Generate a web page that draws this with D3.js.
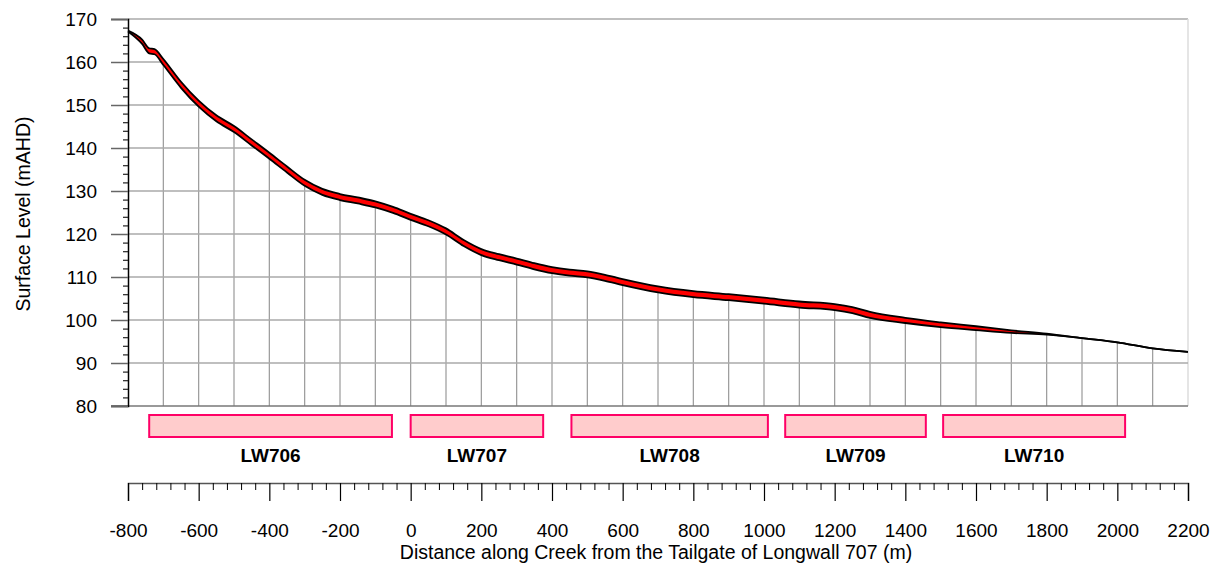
<!DOCTYPE html>
<html>
<head>
<meta charset="utf-8">
<script src="https://cdn.jsdelivr.net/npm/d3@7"></script>
<style>
  body { margin: 0; background: #fff; }
  svg { font-family: "Liberation Sans", Arial, sans-serif; }
</style>
</head>
<body>
<div id="chart"></div>
<script>
// Chart data
const distance = [-800, -760, -740, -725, -700, -650, -600, -550, -500, -450, -400, -350, -300, -250, -200, -150, -100, -50,
  0, 50, 100, 150, 200, 250, 300, 350, 400, 450, 500, 550, 600, 700, 800, 900, 1000, 1100, 1200, 1250, 1300, 1400,
  1500, 1600, 1700, 1800, 1900, 2000, 2100, 2200];
// pre-mining surface (upper edge of the band)
const upperLevel = [167.3, 165.2, 163.2, 163.0, 160.7, 155.4, 151.0, 147.6, 145.1, 142.0, 138.9, 135.7, 132.6, 130.5, 129.3, 128.5, 127.6, 126.3,
  124.7, 123.2, 121.3, 118.6, 116.5, 115.3, 114.3, 113.2, 112.3, 111.7, 111.3, 110.5, 109.5, 107.8, 106.7, 106.0, 105.2, 104.3, 103.7, 103.0, 101.9, 100.5,
  99.45, 98.55, 97.6, 96.8, 95.8, 94.8, 93.4, 92.6];
// post-mining surface (lower edge of the band)
const lowerLevel = [167.1, 164.2, 162.0, 161.8, 159.3, 154.0, 149.6, 146.2, 143.7, 140.6, 137.5, 134.3, 131.2, 129.1, 127.9, 127.1, 126.2, 124.9,
  123.3, 121.8, 119.9, 117.2, 115.1, 113.9, 112.9, 111.8, 110.9, 110.3, 109.9, 109.1, 108.1, 106.4, 105.3, 104.6, 103.8, 102.9, 102.3, 101.6, 100.5, 99.3,
  98.35, 97.65, 97.0, 96.6, 95.8, 94.8, 93.4, 92.6];

const panelNames = ["LW706", "LW707", "LW708", "LW709", "LW710"];
const panelStart = [-740, 0, 455, 1060, 1507];
const panelEnd = [-53, 375, 1011, 1458, 2022];

const yTicks = [80, 90, 100, 110, 120, 130, 140, 150, 160, 170];
const xTicks = [-800, -600, -400, -200, 0, 200, 400, 600, 800, 1000, 1200, 1400, 1600, 1800, 2000, 2200];

// Dimensions
const width = 1210;
const height = 564;
const plotLeft = 128, plotRight = 1188, plotTop = 19, plotBottom = 406;

const svg = d3.select("#chart").append("svg")
    .attr("width", width)
    .attr("height", height);

const x = d3.scaleLinear().domain([-800, 2200]).range([plotLeft, plotRight]);
const y = d3.scaleLinear().domain([80, 170]).range([plotBottom, plotTop]);

const rows = distance.map((d, i) => ({ d: d, up: upperLevel[i], lo: lowerLevel[i] }));

// Clip for grid: area below the surface profile
const underArea = d3.area()
    .x(r => x(r.d))
    .y0(plotBottom)
    .y1(r => y(r.up))
    .curve(d3.curveMonotoneX);

svg.append("clipPath").attr("id", "under")
  .append("path").attr("d", underArea(rows));

// Frame (top and right)
svg.append("line").attr("x1", plotLeft).attr("x2", plotRight).attr("y1", plotTop).attr("y2", plotTop)
    .attr("stroke", "#aaa").attr("stroke-width", 1.5);
svg.append("line").attr("x1", plotRight).attr("x2", plotRight).attr("y1", plotTop).attr("y2", plotBottom)
    .attr("stroke", "#ddd").attr("stroke-width", 1.5);

// Grid lines clipped to under the curve
const grid = svg.append("g").attr("clip-path", "url(#under)");
grid.selectAll(".vg")
    .data(d3.range(-700, 2200, 100))
    .enter().append("line")
    .attr("x1", d => x(d)).attr("x2", d => x(d))
    .attr("y1", plotTop).attr("y2", plotBottom)
    .attr("stroke", "#999").attr("stroke-width", 1.2);
grid.selectAll(".hg")
    .data(yTicks.slice(1))
    .enter().append("line")
    .attr("x1", plotLeft).attr("x2", plotRight)
    .attr("y1", d => y(d)).attr("y2", d => y(d))
    .attr("stroke", "#aaa").attr("stroke-width", 1.5);

// Bottom line of plot at 80
svg.append("line").attr("x1", plotLeft - 17).attr("x2", plotRight).attr("y1", plotBottom).attr("y2", plotBottom)
    .attr("stroke", "#777").attr("stroke-width", 1.5);

// Band between the two profiles
const band = d3.area()
    .x(r => x(r.d))
    .y0(r => y(r.lo))
    .y1(r => y(r.up))
    .curve(d3.curveMonotoneX);
svg.append("path").attr("d", band(rows)).attr("fill", "#ff0000");

const lineUp = d3.line().x(r => x(r.d)).y(r => y(r.up)).curve(d3.curveMonotoneX);
const lineLo = d3.line().x(r => x(r.d)).y(r => y(r.lo)).curve(d3.curveMonotoneX);
[lineUp, lineLo].forEach(fn => {
  svg.append("path").attr("d", fn(rows))
      .attr("fill", "none").attr("stroke", "#000").attr("stroke-width", 1.8)
      .attr("stroke-linejoin", "round");
});

// Left axis
const yAxis = d3.axisLeft(y).tickValues(yTicks).tickSize(17).tickPadding(14).tickFormat(d => d);
const gy = svg.append("g").attr("transform", `translate(${plotLeft},0)`).call(yAxis);
gy.select(".domain").attr("stroke", "#000").attr("stroke-width", 1.5);
gy.selectAll(".tick line").attr("stroke", "#666").attr("stroke-width", 1.5);
gy.selectAll("text").attr("font-size", 19).attr("fill", "#000");
svg.append("g").attr("transform", `translate(${plotLeft},0)`)
  .call(d3.axisLeft(y).tickValues(d3.range(80, 171, 2).filter(v => v % 10 !== 0)).tickSize(5).tickFormat(""))
  .call(g => g.select(".domain").remove())
  .selectAll(".tick line").attr("stroke", "#222").attr("stroke-width", 1.2);

svg.append("text")
    .attr("transform", `translate(30,214) rotate(-90)`)
    .attr("text-anchor", "middle")
    .attr("font-size", 19.5)
    .text("Surface Level (mAHD)");

// Longwall panels
svg.selectAll(".panel")
    .data(panelNames)
    .enter().append("rect")
    .attr("x", (d, i) => x(panelStart[i]))
    .attr("y", 415)
    .attr("width", (d, i) => x(panelEnd[i]) - x(panelStart[i]))
    .attr("height", 22)
    .attr("fill", "#ffcccc")
    .attr("stroke", "#ff0066")
    .attr("stroke-width", 2);
svg.selectAll(".plabel")
    .data(panelNames)
    .enter().append("text")
    .attr("x", (d, i) => (x(panelStart[i]) + x(panelEnd[i])) / 2)
    .attr("y", 462)
    .attr("text-anchor", "middle")
    .attr("font-size", 19)
    .attr("font-weight", "bold")
    .text(d => d);

// Bottom distance axis
const axisY = 483;
const gx = svg.append("g").attr("transform", `translate(0,${axisY})`)
    .call(d3.axisBottom(x).tickValues(xTicks).tickSize(18).tickPadding(23).tickFormat(d => d));
gx.select(".domain").attr("stroke", "#555").attr("stroke-width", 1.5);
gx.selectAll(".tick line").attr("stroke", "#000").attr("stroke-width", 1.2);
gx.selectAll("text").attr("font-size", 19).attr("fill", "#000");
svg.append("g").attr("transform", `translate(0,${axisY})`)
  .call(d3.axisBottom(x).tickValues(d3.range(-800, 2201, 40).filter(v => (v + 800) % 200 !== 0)).tickSize(7).tickFormat(""))
  .call(g => g.select(".domain").remove())
  .selectAll(".tick line").attr("stroke", "#000").attr("stroke-width", 1);

svg.append("text")
    .attr("x", 656)
    .attr("y", 559)
    .attr("text-anchor", "middle")
    .attr("font-size", 19.5)
    .text("Distance along Creek from the Tailgate of Longwall 707 (m)");
</script>
</body>
</html>
